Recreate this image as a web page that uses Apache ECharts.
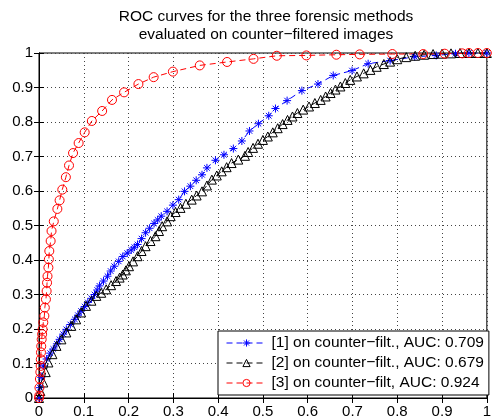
<!DOCTYPE html>
<html>
<head>
<meta charset="utf-8">
<script src="https://cdn.jsdelivr.net/npm/echarts@6/dist/echarts.min.js"></script>
<style>
html,body{margin:0;padding:0;background:#fff;}
#c{width:494px;height:419px;}
</style>
</head>
<body>
<div id="c"></div>
<script>
var titleLines = ['ROC curves for the three forensic methods', 'evaluated on counter\u2212filtered images'];
var xTickLabels = ['0','0.1','0.2','0.3','0.4','0.5','0.6','0.7','0.8','0.9','1'];
var yTickLabels = ['0','0.1','0.2','0.3','0.4','0.5','0.6','0.7','0.8','0.9','1'];
var seriesNames = ['[1] on counter\u2212filt., AUC: 0.709', '[2] on counter\u2212filt., AUC: 0.679', '[3] on counter\u2212filt, AUC: 0.924'];

var roc1 = [[0,0],[0.002,0.03],[0.005,0.06],[0.0096,0.093],[0.017,0.113],[0.025,0.13],[0.032,0.142],[0.04,0.157],[0.046,0.17],[0.054,0.185],[0.061,0.199],[0.07,0.213],[0.08,0.228],[0.087,0.24],[0.094,0.252],[0.102,0.265],[0.109,0.277],[0.117,0.289],[0.124,0.30],[0.13,0.313],[0.135,0.325],[0.144,0.339],[0.153,0.353],[0.16,0.368],[0.168,0.382],[0.178,0.396],[0.187,0.41],[0.197,0.42],[0.206,0.429],[0.213,0.437],[0.22,0.445],[0.229,0.462],[0.238,0.479],[0.247,0.492],[0.257,0.506],[0.265,0.516],[0.273,0.527],[0.286,0.541],[0.299,0.559],[0.312,0.575],[0.325,0.599],[0.338,0.614],[0.351,0.631],[0.364,0.647],[0.375,0.667],[0.394,0.689],[0.413,0.705],[0.434,0.723],[0.453,0.745],[0.47,0.774],[0.49,0.795],[0.513,0.818],[0.528,0.839],[0.554,0.862],[0.587,0.891],[0.623,0.910],[0.657,0.935],[0.699,0.949],[0.735,0.969],[0.784,0.978],[0.839,0.989],[0.887,0.993],[0.93,0.998],[0.96,1],[1,1]];

var roc2 = [[0,0],[0.003,0.02],[0.0096,0.045],[0.015,0.075],[0.021,0.103],[0.03,0.127],[0.039,0.151],[0.05,0.17],[0.061,0.19],[0.072,0.209],[0.083,0.228],[0.094,0.248],[0.105,0.267],[0.117,0.282],[0.128,0.296],[0.139,0.305],[0.15,0.315],[0.161,0.327],[0.172,0.339],[0.18,0.349],[0.187,0.358],[0.194,0.37],[0.201,0.382],[0.21,0.396],[0.22,0.411],[0.229,0.426],[0.238,0.44],[0.249,0.455],[0.26,0.469],[0.268,0.484],[0.275,0.498],[0.286,0.512],[0.294,0.527],[0.305,0.539],[0.316,0.551],[0.328,0.563],[0.341,0.575],[0.352,0.587],[0.364,0.599],[0.375,0.616],[0.386,0.633],[0.397,0.645],[0.408,0.657],[0.419,0.669],[0.43,0.681],[0.445,0.691],[0.46,0.702],[0.467,0.713],[0.478,0.725],[0.489,0.737],[0.5,0.748],[0.511,0.758],[0.522,0.77],[0.533,0.782],[0.544,0.794],[0.555,0.806],[0.566,0.816],[0.577,0.826],[0.59,0.836],[0.603,0.845],[0.616,0.855],[0.629,0.864],[0.64,0.874],[0.651,0.884],[0.662,0.894],[0.673,0.903],[0.684,0.913],[0.695,0.922],[0.71,0.932],[0.725,0.941],[0.74,0.951],[0.754,0.96],[0.77,0.968],[0.784,0.975],[0.8,0.982],[0.82,0.988],[0.84,0.992],[0.86,0.995],[0.88,0.997],[0.9,0.998],[0.92,0.999],[0.94,1],[0.96,1],[0.98,1],[1,1]];

var roc3 = [[0,0],[0.0007,0.007],[0.001,0.03],[0.002,0.055],[0.003,0.075],[0.0037,0.093],[0.004,0.112],[0.0044,0.132],[0.005,0.15],[0.006,0.17],[0.007,0.185],[0.008,0.199],[0.0096,0.219],[0.012,0.238],[0.013,0.262],[0.0155,0.286],[0.017,0.31],[0.018,0.334],[0.019,0.353],[0.021,0.378],[0.022,0.402],[0.023,0.426],[0.026,0.455],[0.028,0.484],[0.033,0.512],[0.041,0.548],[0.046,0.573],[0.052,0.604],[0.06,0.64],[0.067,0.674],[0.076,0.71],[0.0885,0.739],[0.102,0.77],[0.118,0.803],[0.141,0.832],[0.163,0.864],[0.19,0.886],[0.222,0.91],[0.256,0.93],[0.299,0.946],[0.359,0.964],[0.42,0.974],[0.479,0.983],[0.531,0.992],[0.597,0.993],[0.664,0.995],[0.716,0.996],[0.789,0.997],[0.858,0.997],[0.906,0.998],[0.945,0.999],[0.96,1],[0.98,1],[1,1]];

var FONT = '"Liberation Sans", Arial, Helvetica, sans-serif';
var asterisk = 'path://M5,0 L5,10 M0,5 L10,5 M1.5,1.5 L8.5,8.5 M1.5,8.5 L8.5,1.5';
var colors = ['#0000ff', '#000000', '#ff0000'];
var symbols = [asterisk, 'triangle', 'circle'];

var chart = echarts.init(document.getElementById('c'), null, {renderer: 'canvas'});

function mkSeries(name, data, color, symbol, size) {
  return {
    name: name,
    type: 'line',
    data: data,
    xAxisIndex: 0, yAxisIndex: 0,
    symbol: symbol,
    symbolSize: size,
    showAllSymbol: true,
    smooth: false,
    lineStyle: {color: color, width: 1, type: [6, 4]},
    itemStyle: {color: 'rgba(0,0,0,0)', borderColor: color, borderWidth: 1},
    emphasis: {disabled: true}
  };
}

var splitStyle = {show: true, lineStyle: {color: '#444', width: 1, type: [1, 3]}};

var legendData = seriesNames.map(function (n, i) {
  return {name: n, itemStyle: {color: 'rgba(0,0,0,0)', borderColor: colors[i], borderWidth: 1},
          lineStyle: {color: colors[i], width: 1, type: [6, 4]}};
});

chart.setOption({
  animation: false,
  backgroundColor: '#fff',
  graphic: [
    {type: 'text', x: 266, y: 17, style: {text: titleLines[0], fill: '#000', font: '15.5px ' + FONT, textAlign: 'center', textVerticalAlign: 'middle'}},
    {type: 'text', x: 266, y: 35, style: {text: titleLines[1], fill: '#000', font: '15.5px ' + FONT, textAlign: 'center', textVerticalAlign: 'middle'}}
  ],
  grid: {left: 39, right: 3, top: 53, bottom: 20, show: true, borderColor: '#000', borderWidth: 1, containLabel: false},
  xAxis: [{
    type: 'value', min: 0, max: 1, interval: 0.1, position: 'bottom',
    axisLine: {show: true, lineStyle: {color: '#000', width: 1}},
    axisTick: {show: true, inside: true, length: 5, lineStyle: {color: '#000'}},
    axisLabel: {color: '#000', fontSize: 15, fontFamily: FONT, margin: 6,
      formatter: function (v) { return xTickLabels[Math.round(v * 10)]; }},
    splitLine: splitStyle
  }, {
    type: 'value', min: 0, max: 1, interval: 0.1, position: 'top',
    axisLine: {show: true, lineStyle: {color: '#000', width: 1}},
    axisTick: {show: true, inside: true, length: 5, lineStyle: {color: '#000'}},
    axisLabel: {show: false}, splitLine: {show: false}
  }],
  yAxis: [{
    type: 'value', min: 0, max: 1, interval: 0.1, position: 'left',
    axisLine: {show: true, lineStyle: {color: '#000', width: 1}},
    axisTick: {show: true, inside: true, length: 5, lineStyle: {color: '#000'}},
    axisLabel: {color: '#000', fontSize: 15, fontFamily: FONT, margin: 6,
      formatter: function (v) { return yTickLabels[Math.round(v * 10)]; }},
    splitLine: splitStyle
  }, {
    type: 'value', min: 0, max: 1, interval: 0.1, position: 'right',
    axisLine: {show: true, lineStyle: {color: '#000', width: 1}},
    axisTick: {show: true, inside: true, length: 5, lineStyle: {color: '#000'}},
    axisLabel: {show: false}, splitLine: {show: false}
  }],
  legend: {
    show: true, orient: 'vertical', left: 218, top: 331,
    padding: [4, 5, 4, 8], itemGap: 4, itemWidth: 40, itemHeight: 9,
    backgroundColor: '#fff', borderColor: '#000', borderWidth: 1, borderRadius: 0,
    textStyle: {color: '#000', fontSize: 15.5, fontFamily: FONT, padding: [0, 0, 0, 0]},
    data: legendData
  },
  series: [
    mkSeries(seriesNames[0], roc1, colors[0], symbols[0], 8),
    mkSeries(seriesNames[1], roc2, colors[1], symbols[1], 9),
    mkSeries(seriesNames[2], roc3, colors[2], symbols[2], 9)
  ]
});
</script>
</body>
</html>
